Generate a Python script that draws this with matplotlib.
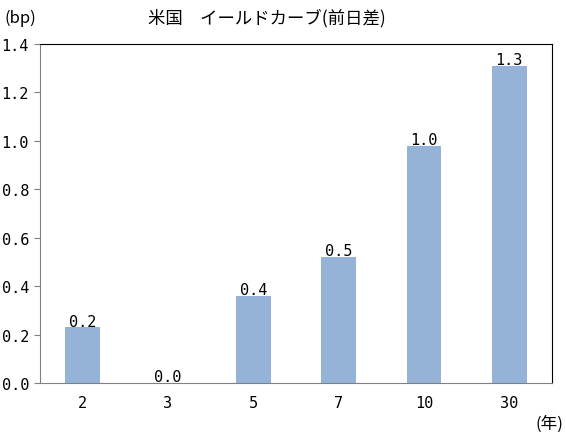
import matplotlib
matplotlib.use("Agg")
import matplotlib.pyplot as plt

plt.rcParams['font.family'] = ['Noto Sans CJK JP', 'DejaVu Sans']

categories = ["2", "3", "5", "7", "10", "30"]
values = [0.23, 0.0, 0.36, 0.52, 0.98, 1.31]
labels = ["0.2", "0.0", "0.4", "0.5", "1.0", "1.3"]
yticks = [0.0, 0.2, 0.4, 0.6, 0.8, 1.0, 1.2, 1.4]

num_font = dict(family="DejaVu Sans Mono", size=11)

fig = plt.figure(figsize=(5.66, 4.35), dpi=100)
ax = fig.add_axes([40/566, 51/435, 512/566, 339/435])
x = list(range(len(categories)))
ax.bar(x, values, width=0.41, color="#95b3d7")
for xi, v, lab in zip(x, values, labels):
    ax.text(xi, v - 0.005, lab, ha="center", va="bottom", **num_font)
ax.set_xlim(-0.5, len(categories) - 0.5)
ax.set_ylim(0, 1.4)
ax.set_xticks(x)
ax.set_xticklabels(categories, **num_font)
ax.set_yticks(yticks)
ax.set_yticklabels([f"{t:.1f}" for t in yticks], **num_font)
ax.tick_params(axis="x", length=0, pad=9)
ax.tick_params(axis="y", length=4, color="#808080", pad=4)
for s in ["left", "bottom"]:
    ax.spines[s].set_color("#808080")
for s in ["top", "right"]:
    ax.spines[s].set_color("black")
fig.text(267/566, 1 - 18/435, "米国　イールドカーブ(前日差)", ha="center", va="center", fontsize=12.5)
fig.text(5/566, 1 - 18/435, "(bp)", ha="left", va="center", fontsize=12)
fig.text(563/566, 1 - 424/435, "(年)", ha="right", va="center", fontsize=12)
fig.savefig("out.png", dpi=100)
